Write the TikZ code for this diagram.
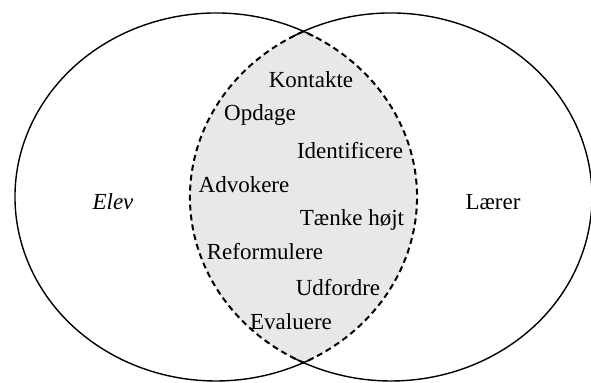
\documentclass[tikz,border=0pt]{standalone}
\usepackage{fontspec}
\setmainfont{Liberation Serif}
\begin{document}
\begin{tikzpicture}[x=0.5pt,y=0.5pt,
  word/.style={font=\fontsize{11.5}{13}\selectfont, inner sep=0pt},
  outline/.style={line width=0.7pt},
  lens/.style={line width=1pt, dash pattern=on 3pt off 2pt, fill=black!9}]
\useasboundingbox (0,0) rectangle (591,383);

% shared part of the two ellipses
\draw[lens] (303.5,351.6) arc[start angle=115.8,end angle=244.2,x radius=201,y radius=184]
                          arc[start angle=-64.2,end angle=64.2,x radius=201,y radius=184] -- cycle;

% outer arcs
\draw[outline] (216,186) ++(61:201 and 184) arc[start angle=61,end angle=299,x radius=201,y radius=184];
\draw[outline] (391,186) ++(119:201 and 184) arc[start angle=119,end angle=-119,x radius=201,y radius=184];

\node[word] (elev)  at (113,181) {\textit{Elev}};
\node[word] (laerer) at (493,181) {Lærer};

\node[word] (kontakte)     at (311,303) {Kontakte};
\node[word] (opdage)       at (260,268) {Opdage};
\node[word] (identificere) at (350,232) {Identificere};
\node[word] (advokere)     at (244,198) {Advokere};
\node[word] (taenke)       at (352,163) {Tænke højt};
\node[word] (reformulere)  at (265,131) {Reformulere};
\node[word] (udfordre)     at (338,95)  {Udfordre};
\node[word] (evaluere)     at (291,61)  {Evaluere};

\end{tikzpicture}
\end{document}
